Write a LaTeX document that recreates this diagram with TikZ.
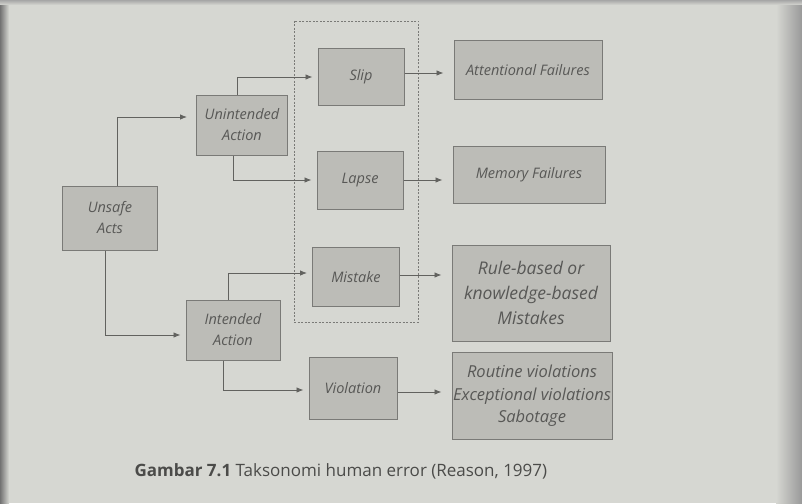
\documentclass[tikz,border=0pt]{standalone}
\usepackage{fontspec}
\setmainfont{Open Sans}
\usetikzlibrary{arrows.meta}
\definecolor{paper}{HTML}{D6D7D2}
\definecolor{boxfill}{HTML}{BCBCB7}
\definecolor{boxline}{HTML}{7A7A77}
\definecolor{ink}{HTML}{585856}
\definecolor{wire}{HTML}{62625F}
\tikzset{
  box/.style={draw=boxline, fill=boxfill, line width=1pt, align=center,
    font=\fontsize{14.5}{21}\selectfont\itshape, text=ink, inner sep=1pt},
  arr/.style={draw=wire, line width=0.8pt,
    -{Latex[length=7pt,width=5.5pt]}, shorten >=5pt},
  farr/.style={arr, shorten >=10pt},
  group/.style={draw=boxline, line width=0.8pt, dash pattern=on 2pt off 1.5pt}
}
\begin{document}
\begin{tikzpicture}[x=1pt,y=-1pt]
  % page
  \fill[paper] (0,0) rectangle (802,503);
  \useasboundingbox (0,0) rectangle (802,503);
  \fill[left color=black!55, right color=paper] (0,0) rectangle (9,503);
  \fill[left color=paper, right color=black!40] (776,0) rectangle (802,503);
  \fill[top color=black!35, bottom color=paper] (0,0) rectangle (802,5);

  % dashed group round the error types
  \draw[group] (294,21) rectangle (418,322);

  % boxes
  \node[box, minimum width=95pt, minimum height=64pt] (unsafe) at (110,218) {Unsafe\\Acts};
  \node[box, minimum width=91pt, minimum height=60pt] (unint) at (242,125) {Unintended\\Action};
  \node[box, minimum width=94pt, minimum height=60pt] (intended) at (233,330) {Intended\\Action};
  \node[box, minimum width=86pt, minimum height=57pt] (slip) at (361,77) {Slip};
  \node[box, minimum width=86pt, minimum height=58pt] (lapse) at (360,180) {Lapse};
  \node[box, minimum width=87pt, minimum height=59pt] (mistake) at (356,277) {Mistake};
  \node[box, minimum width=88pt, minimum height=62pt] (violation) at (353,388) {Violation};
  \node[box, minimum width=148pt, minimum height=58pt] (att) at (528,70) {Attentional Failures};
  \node[box, minimum width=152pt, minimum height=57pt] (mem) at (529,175) {Memory Failures};
  \node[box, minimum width=158pt, minimum height=96pt, font=\fontsize{17.5}{25}\selectfont\itshape] (rule) at (531,293) {Rule-based or\\knowledge-based\\Mistakes};
  \node[box, minimum width=160pt, minimum height=87pt, font=\fontsize{16.5}{22.5}\selectfont\itshape] (routine) at (532,396) {Routine violations\\Exceptional violations\\Sabotage};

  % connectors
  \draw[arr, shorten >=9pt] ([xshift=7pt]unsafe.north) |- ([yshift=8pt]unint.west);
  \draw[arr] ([xshift=-5pt]unsafe.south) |- ([yshift=-5pt]intended.west);
  \draw[arr] ([xshift=-5pt]unint.north) |- (slip.west);
  \draw[arr] ([xshift=-9pt]unint.south) |- (lapse.west);
  \draw[arr] ([xshift=-5pt]intended.north) |- ([yshift=4pt]mistake.west);
  \draw[arr] ([xshift=-10pt]intended.south) |- ([yshift=-2pt]violation.west);
  \draw[farr] ([yshift=4pt]slip.east) -- ([yshift=4pt]slip.east -| att.west);
  \draw[farr] (lapse.east) -- (lapse.east -| mem.west);
  \draw[farr] ([yshift=2pt]mistake.east) -- ([yshift=2pt]mistake.east -| rule.west);
  \draw[farr] ([yshift=-4pt]violation.east) -- ([yshift=-4pt]violation.east -| routine.west);

  % caption
  \node[text=ink!85!black, font=\fontsize{17}{19}\selectfont, anchor=west] (caption) at (131,471)
    {\textbf{Gambar 7.1} Taksonomi human error (Reason, 1997)};
\end{tikzpicture}
\end{document}
